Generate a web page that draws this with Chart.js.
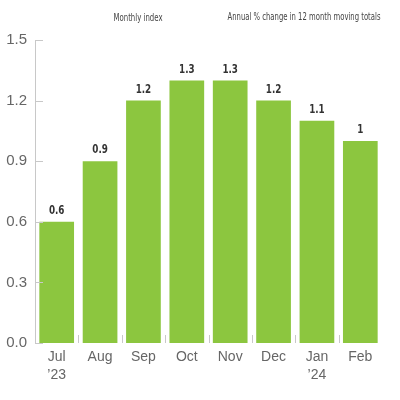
<!DOCTYPE html>
<html>
<head>
<meta charset="utf-8">
<script src="https://cdn.jsdelivr.net/npm/chart.js@4"></script>
<style>
  html, body { margin: 0; padding: 0; background: #fff; }
  #wrap { width: 400px; height: 400px; }
</style>
</head>
<body>
<div id="wrap"><canvas id="c" width="400" height="400"></canvas></div>
<script>
// monthly index, annual % change in 12 month moving totals
const months = [['Jul', '\u201923'], 'Aug', 'Sep', 'Oct', 'Nov', 'Dec', ['Jan', '\u201924'], 'Feb'];
const values = [0.6, 0.9, 1.2, 1.3, 1.3, 1.2, 1.1, 1];
const yTicks = [0, 0.3, 0.6, 0.9, 1.2, 1.5];
const titles = ['Monthly index', 'Annual % change in 12 month moving totals'];

const GREEN = '#8cc63f';
const AXIS = '#c8c8c8';
const COND = '"DejaVu Sans Condensed", "Liberation Sans Narrow", sans-serif';
const SANS = '"Liberation Sans", Arial, sans-serif';

// draw text squeezed horizontally so it looks like a narrow face
function squeezed(ctx, text, x, y, sx) {
  ctx.save();
  ctx.translate(x, y);
  ctx.scale(sx, 1);
  ctx.fillText(text, 0, 0);
  ctx.restore();
}

// value labels + header texts + short inward tick marks
const decor = {
  id: 'decor',
  afterDatasetsDraw(chart) {
    const { ctx, chartArea } = chart;
    const meta = chart.getDatasetMeta(0);
    const x = chart.scales.x, y = chart.scales.y;
    ctx.save();
    ctx.font = 'bold 11.5px ' + COND;
    ctx.fillStyle = '#333';
    ctx.textAlign = 'center';
    ctx.textBaseline = 'bottom';
    meta.data.forEach((bar, i) => {
      squeezed(ctx, String(values[i]), bar.x, bar.y - 5, 0.85);
    });

    // header, fitted to the widths seen in the original
    ctx.font = '10.5px ' + COND;
    ctx.fillStyle = '#444';
    ctx.textBaseline = 'middle';
    const w0 = ctx.measureText(titles[0]).width;
    const w1 = ctx.measureText(titles[1]).width;
    squeezed(ctx, titles[0], 138, 18, 49 / w0);
    squeezed(ctx, titles[1], 304, 17, 153 / w1);

    // y ticks point into the plot
    ctx.strokeStyle = AXIS;
    ctx.lineWidth = 1;
    yTicks.forEach(v => {
      const py = Math.round(y.getPixelForValue(v)) + 0.5;
      ctx.beginPath();
      ctx.moveTo(chartArea.left, py);
      ctx.lineTo(chartArea.left + 8, py);
      ctx.stroke();
    });
    // x ticks between bars, up from the baseline
    for (let i = 1; i < months.length; i++) {
      const px = Math.round((x.getPixelForValue(i - 1) + x.getPixelForValue(i)) / 2) + 0.5;
      ctx.beginPath();
      ctx.moveTo(px, chartArea.bottom);
      ctx.lineTo(px, chartArea.bottom - 8);
      ctx.stroke();
    }
    ctx.restore();
  },
};

new Chart(document.getElementById('c'), {
  type: 'bar',
  data: {
    labels: months,
    datasets: [{
      data: values,
      backgroundColor: GREEN,
      categoryPercentage: 0.8,
      barPercentage: 1.0,
    }],
  },
  options: {
    animation: false,
    responsive: false,
    maintainAspectRatio: false,
    layout: { padding: { top: 40, right: 18, left: 0, bottom: 0 } },
    scales: {
      x: {
        grid: { display: false },
        border: { display: false },
        ticks: {
          color: '#666',
          font: { family: SANS, size: 14, lineHeight: 1.3 },
          padding: -3,
          maxRotation: 0,
          autoSkip: false,
        },
        afterFit(s) { s.height = 57; },
      },
      y: {
        min: 0,
        max: 1.5,
        afterBuildTicks(s) { s.ticks = yTicks.map(v => ({ value: v })); },
        grid: { display: false },
        border: { display: true, color: AXIS, width: 1 },
        ticks: {
          color: '#666',
          font: { family: SANS, size: 15 },
          padding: 0,
          callback: v => Number(v).toFixed(1),
        },
        afterFit(s) { s.width = 35; },
      },
    },
    plugins: { legend: { display: false }, tooltip: { enabled: false } },
  },
  plugins: [decor],
});
</script>
</body>
</html>
